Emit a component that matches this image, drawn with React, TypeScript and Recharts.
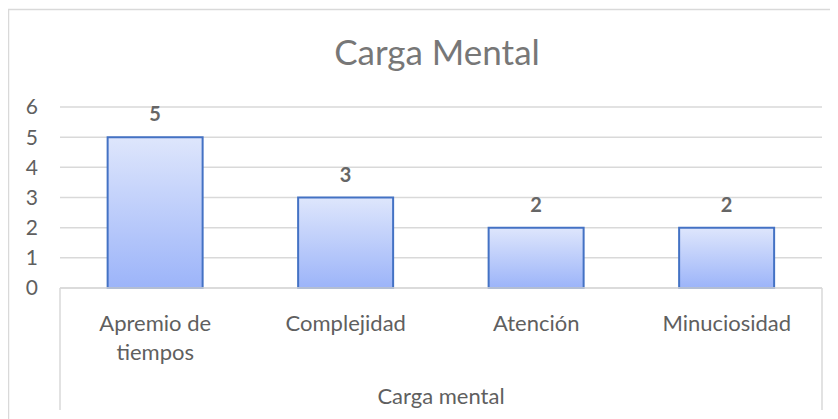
import React from "react";
import { BarChart, Bar, XAxis, YAxis, CartesianGrid, LabelList } from "recharts";

const categories = ["Apremio de tiempos", "Complejidad", "Atención", "Minuciosidad"];
const values = [5, 3, 2, 2];
const yTicks = [0, 1, 2, 3, 4, 5, 6];
const chartTitle = "Carga Mental";
const axisTitle = "Carga mental";

const data = categories.map((c, i) => ({ name: c, value: values[i] }));

const W = 830;
const H = 411;
const M = { top: 99, right: 16, left: 0, bottom: 0 };
const YW = 52;
const XH = 131;
const FONT = "Lato, 'Open Sans', sans-serif";
const TXT = "#5f5f5f";
const GRID = "#d9d9d9";
const MAX_CHARS = 14;

const wrap = (s: string) => {
  const words = s.split(" ");
  const lines: string[] = [];
  let cur = "";
  for (const w of words) {
    const next = cur ? cur + " " + w : w;
    if (next.length > MAX_CHARS && cur) {
      lines.push(cur);
      cur = w;
    } else cur = next;
  }
  if (cur) lines.push(cur);
  return lines;
};

const CatTick = (props: any) => {
  const { x, y, payload } = props;
  const lines = wrap(String(payload.value));
  return (
    <text x={x} y={y} textAnchor="middle" fontFamily={FONT} fontSize={22} fill={TXT}>
      {lines.map((l, i) => (
        <tspan key={i} x={x} y={y + 35 + i * 29}>
          {l}
        </tspan>
      ))}
    </text>
  );
};

const plotLeft = M.left + YW;
const plotRight = W - M.right;
const plotBottom = H - XH;

export default function App() {
  return (
    <div style={{ position: "relative", width: W, height: H }}>
      <BarChart width={W} height={H} data={data} margin={M} barCategoryGap="25%">
        <defs>
          <linearGradient id="barGrad" x1="0" y1="0" x2="0" y2="1">
            <stop offset="0%" stopColor="#dee6fc" />
            <stop offset="100%" stopColor="#9cb4f9" />
          </linearGradient>
        </defs>
        <line x1={0.5} y1={1} x2={0.5} y2={H} stroke={GRID} strokeWidth={1.5} />
        <line x1={0} y1={1.5} x2={W} y2={1.5} stroke={GRID} strokeWidth={1.5} />
        <line x1={plotLeft} y1={plotBottom} x2={plotLeft} y2={402} stroke={GRID} strokeWidth={1.5} />
        <line x1={plotRight} y1={plotBottom} x2={plotRight} y2={402} stroke={GRID} strokeWidth={1.5} />
        <text x={429} y={57} textAnchor="middle" fontFamily={FONT} fontSize={35} fill="#777777">
          {chartTitle}
        </text>
        <text x={(plotLeft + plotRight) / 2} y={396} textAnchor="middle" fontFamily={FONT} fontSize={22} fill={TXT}>
          {axisTitle}
        </text>
        <CartesianGrid vertical={false} stroke={GRID} strokeWidth={1.5} />
        <XAxis
          dataKey="name"
          height={XH}
          axisLine={{ stroke: GRID, strokeWidth: 1.5 }}
          tickLine={false}
          interval={0}
          tick={<CatTick />}
        />
        <YAxis
          width={YW}
          domain={[0, 6]}
          ticks={yTicks}
          axisLine={false}
          tickLine={false}
          tickSize={0}
          tickMargin={22}
          tick={{ fontFamily: FONT, fontSize: 21, fill: TXT }}
        />
        <Bar dataKey="value" fill="url(#barGrad)" stroke="#4472c4" strokeWidth={2} isAnimationActive={false}>
          <LabelList
            dataKey="value"
            position="top"
            offset={16}
            style={{ fontFamily: FONT, fontSize: 20, fontWeight: 700, fill: "#666666" }}
          />
        </Bar>
      </BarChart>
    </div>
  );
}
